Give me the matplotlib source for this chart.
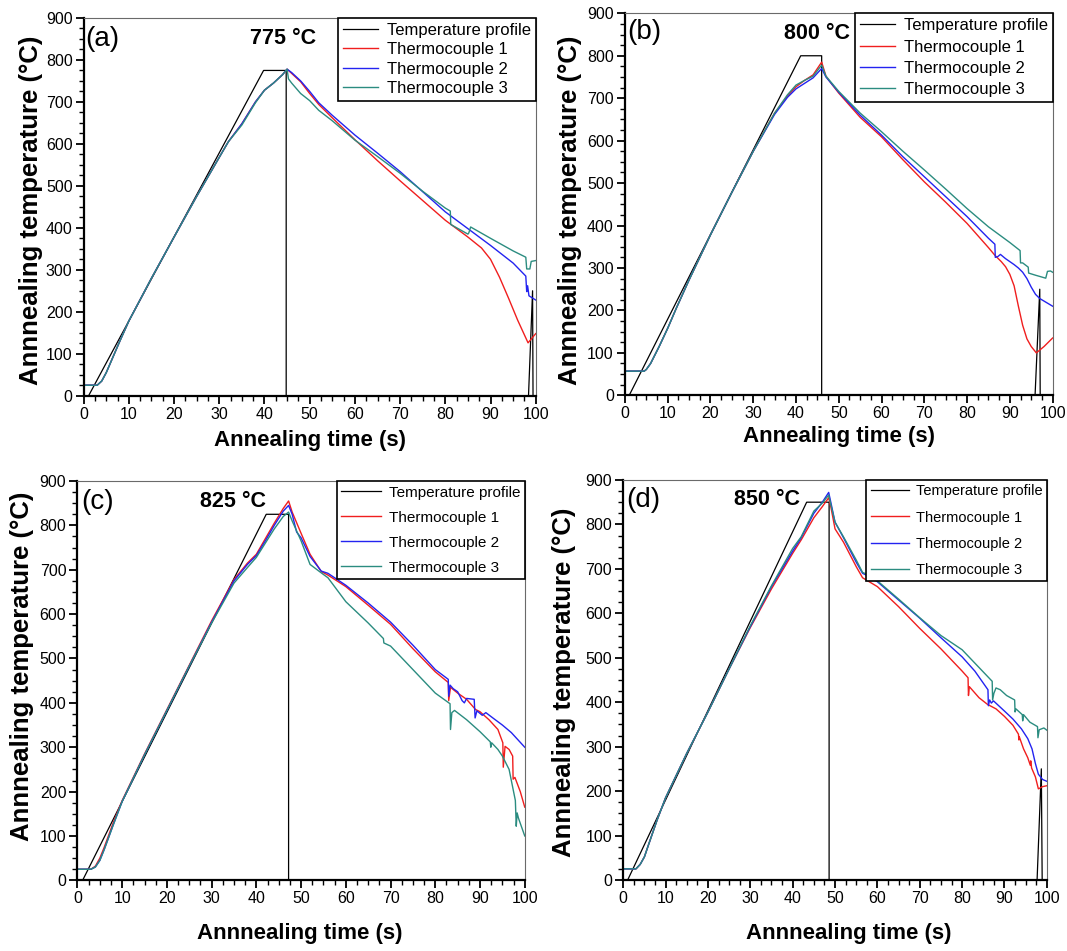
import matplotlib
matplotlib.use("Agg")
import matplotlib.pyplot as plt
from matplotlib.ticker import MultipleLocator

plt.rcParams['font.family'] = ['Liberation Sans', 'DejaVu Sans']

# ---- panel (a) 775 C ----
a_prof_t = [1.1, 39.8, 44.8, 44.8, 98.4, 99.3, 99.4]
a_prof_T = [0, 775, 775, 0, 0, 250, 0]
a_tc1_t = [0, 3, 4, 5, 6, 8, 10, 15, 20, 25, 30, 32, 35, 38, 40, 42, 44, 45, 46, 48, 50, 52, 55, 60, 65, 70, 75, 80, 85, 88, 90, 92, 94, 96, 98.3, 100]
a_tc1_T = [25, 25, 35, 55, 80, 130, 178, 280, 378, 475, 568, 605, 648, 700, 728, 745, 765, 778, 768, 748, 720, 694, 662, 610, 560, 512, 465, 418, 378, 352, 325, 282, 232, 180, 126, 148]
a_tc2_t = [0, 3, 4, 5, 6, 8, 10, 15, 20, 25, 30, 32, 35, 38, 40, 42, 44, 45, 46, 48, 50, 52, 55, 60, 65, 70, 75, 80, 85, 90, 95, 97.8, 98.0, 98.2, 98.5, 100]
a_tc2_T = [25, 25, 35, 55, 80, 130, 178, 280, 378, 475, 568, 605, 648, 700, 728, 745, 765, 778, 770, 750, 725, 698, 668, 621, 578, 534, 486, 438, 398, 358, 316, 285, 248, 262, 238, 228]
a_tc3_t = [0, 3, 4, 5, 6, 8, 10, 15, 20, 25, 30, 32, 35, 38, 40, 42, 44, 45, 45.3, 46, 48, 50, 52, 55, 60, 65, 70, 75, 80, 81.1, 81.2, 85.0, 85.2, 85.6, 90, 95, 97.8, 98.0, 98.7, 99.0, 100]
a_tc3_T = [25, 25, 35, 55, 80, 130, 178, 280, 378, 475, 568, 605, 645, 698, 728, 745, 765, 778, 755, 745, 720, 703, 680, 655, 609, 570, 530, 487, 447, 440, 408, 385, 388, 402, 375, 345, 330, 302, 302, 320, 322]

# ---- panel (b) 800 C ----
b_prof_t = [1.0, 41.1, 46.0, 46.0, 95.9, 97.0, 97.1]
b_prof_T = [0, 800, 800, 0, 0, 250, 0]
b_tc1_t = [0, 4.5, 5, 6, 8, 10, 12, 15, 20, 25, 30, 35, 38, 40, 42, 44, 46, 47, 48, 50, 55, 60, 65, 70, 75, 80, 85, 86.5, 88, 89, 90, 91, 92, 93, 94, 95, 96.2, 98, 100]
b_tc1_T = [57, 57, 61, 75, 115, 158, 205, 272, 378, 478, 575, 665, 705, 727, 742, 755, 785, 752, 738, 712, 655, 609, 555, 503, 455, 405, 348, 330, 315, 303, 285, 258, 210, 165, 133, 115, 100, 115, 135]
b_tc2_t = [0, 4.5, 5, 6, 8, 10, 12, 15, 20, 25, 30, 35, 38, 40, 42, 44, 46, 47, 48, 50, 55, 60, 65, 70, 75, 80, 85, 86.5, 86.6, 87.2, 87.8, 89, 91, 92, 93, 94, 95, 96, 97, 98, 100]
b_tc2_T = [57, 57, 61, 75, 115, 158, 205, 272, 378, 478, 575, 662, 702, 722, 735, 748, 770, 750, 738, 714, 660, 613, 562, 515, 468, 421, 370, 356, 325, 327, 332, 322, 308, 300, 290, 275, 255, 238, 228, 222, 210]
b_tc3_t = [0, 4.5, 5, 6, 8, 10, 12, 15, 20, 25, 30, 35, 38, 40, 42, 44, 46, 47, 48, 50, 55, 60, 65, 70, 75, 80, 85, 90, 92.4, 92.5, 93, 94.3, 94.4, 96, 98.4, 98.8, 99.5, 100]
b_tc3_T = [57, 57, 61, 75, 115, 158, 205, 272, 378, 478, 575, 665, 708, 731, 742, 752, 778, 752, 740, 716, 665, 621, 575, 531, 486, 440, 397, 360, 341, 312, 312, 302, 288, 283, 276, 292, 293, 290]

# ---- panel (c) 825 C ----
c_prof_t = [1.15, 42.2, 47.2, 47.2]
c_prof_T = [0, 825, 825, 0]
c_tc1_t = [0, 3, 4, 5, 6, 8, 10, 15, 20, 25, 30, 35, 38, 40, 42, 44, 46, 47.2, 48, 50, 52, 54.5, 56, 60, 65, 70, 75, 80, 82.9, 83.0, 83.4, 85, 87, 89, 90, 92, 94, 95.1, 95.2, 95.6, 96.5, 97.3, 97.4, 97.8, 99, 100]
c_tc1_T = [25, 25, 32, 50, 75, 130, 180, 285, 385, 485, 585, 678, 715, 735, 770, 805, 838, 855, 830, 782, 735, 696, 688, 662, 620, 577, 522, 470, 446, 405, 435, 422, 408, 385, 380, 362, 340, 310, 255, 302, 295, 280, 228, 232, 200, 165]
c_tc2_t = [0, 3, 4, 5, 6, 8, 10, 15, 20, 25, 30, 35, 38, 40, 42, 44, 46, 47.2, 48, 49, 50, 52, 54.5, 56, 60, 65, 70, 75, 80, 82.9, 83.0, 83.3, 84, 85, 86, 86.5, 87, 88.7, 88.9, 89.3, 90.5, 91.3, 93, 95, 97, 100]
c_tc2_T = [25, 25, 30, 45, 70, 125, 178, 283, 383, 483, 582, 675, 712, 732, 765, 800, 832, 845, 825, 785, 772, 730, 697, 692, 665, 625, 582, 530, 475, 453, 415, 440, 432, 425, 405, 400, 410, 408, 366, 382, 372, 378, 365, 350, 333, 300]
c_tc3_t = [0, 3, 4, 5, 6, 8, 10, 15, 20, 25, 30, 35, 38, 40, 42, 44, 46, 47.2, 48, 50, 52, 54.5, 56, 60, 65, 68.4, 68.5, 70, 75, 80, 83.3, 83.4, 83.7, 84.3, 87, 90, 92.3, 92.4, 92.6, 94, 95, 96.5, 97.9, 98.1, 98.3, 98.6, 100]
c_tc3_T = [25, 25, 30, 45, 70, 125, 178, 283, 383, 483, 580, 670, 705, 728, 760, 792, 820, 830, 810, 765, 712, 693, 682, 628, 580, 545, 535, 528, 475, 422, 398, 340, 378, 383, 362, 335, 312, 300, 310, 295, 280, 250, 180, 122, 152, 140, 100]

# ---- panel (d) 850 C ----
d_prof_t = [1.05, 43.3, 48.6, 48.6, 97.7, 98.7, 98.9]
d_prof_T = [0, 850, 850, 0, 0, 250, 0]
d_tc1_t = [0, 3, 4, 5, 6, 8, 10, 15, 20, 25, 30, 35, 40, 42, 45, 47, 48.5, 49, 50, 52, 55, 56.5, 60, 65, 70, 75, 80, 81.4, 81.5, 81.7, 84, 86, 88, 90, 92, 93.3, 93.4, 93.5, 94.5, 95.5, 96.1, 96.2, 96.4, 97.3, 98, 99, 100]
d_tc1_T = [25, 25, 35, 52, 80, 135, 185, 285, 378, 475, 568, 655, 735, 765, 815, 840, 860, 840, 790, 760, 705, 680, 660, 615, 566, 520, 470, 455, 415, 435, 410, 395, 385, 368, 348, 328, 315, 322, 295, 275, 258, 268, 252, 232, 205, 210, 212]
d_tc2_t = [0, 3, 4, 5, 6, 8, 10, 15, 20, 25, 30, 35, 40, 42, 45, 47, 48.5, 49, 50, 52, 55, 56.5, 58, 60, 65, 70, 75, 80, 83, 86.1, 86.2, 86.5, 86.9, 87.4, 90, 92, 94, 95.5, 96.5, 97.3, 98, 99, 100]
d_tc2_T = [25, 25, 35, 52, 80, 135, 185, 285, 378, 475, 570, 660, 740, 770, 825, 850, 872, 850, 805, 770, 715, 690, 683, 671, 630, 589, 545, 502, 470, 428, 392, 405, 398, 403, 380, 362, 340, 318, 295, 262, 238, 226, 222]
d_tc3_t = [0, 3, 4, 5, 6, 8, 10, 15, 20, 25, 30, 35, 40, 42, 45, 47, 48.5, 49, 50, 52, 55, 56.5, 58, 60, 65, 70, 75, 80, 84, 87.1, 87.2, 87.5, 88, 89, 90.5, 92.4, 92.5, 92.7, 94.2, 94.3, 94.5, 96, 97.8, 97.9, 98.2, 99.3, 100]
d_tc3_T = [25, 25, 35, 52, 80, 135, 185, 285, 378, 475, 572, 662, 746, 772, 830, 848, 866, 845, 805, 772, 720, 692, 686, 673, 632, 590, 550, 518, 478, 447, 405, 420, 432, 428, 415, 405, 378, 385, 372, 358, 372, 355, 345, 320, 338, 342, 337]

labels = ["Temperature profile", "Thermocouple 1", "Thermocouple 2", "Thermocouple 3"]
colors = ["black", "#f01e1e", "#2323f0", "#2b8c80"]

fig = plt.figure(figsize=(10.67, 9.51), dpi=100)


def panel(rect, series, letter, title, tpos, lpos, xlab, ylab, ylab_x, ylab_y, xlab_x, xlab_y,
          leg_fs, leg_sp, leg_hl):
    ax = fig.add_axes(rect)
    for (t, T), lab, c in zip(series, labels, colors):
        lw = 0.9 if c == "black" else 1.0
        ax.plot(t, T, color=c, lw=lw, label=lab)
    ax.set_xlim(0, 100)
    ax.set_ylim(0, 900)
    ax.xaxis.set_major_locator(MultipleLocator(10))
    ax.xaxis.set_minor_locator(MultipleLocator(2.5))
    ax.yaxis.set_major_locator(MultipleLocator(100))
    ax.yaxis.set_minor_locator(MultipleLocator(25))
    ax.tick_params(which='both', direction='out', top=False, right=False, labelsize=11.5, pad=2)
    ax.tick_params(which='major', length=6, width=1.3)
    ax.tick_params(which='minor', length=3.5, width=1.0)
    for s in ['left', 'bottom']:
        ax.spines[s].set_linewidth(1.6)
        ax.spines[s].set_color('black')
    for s in ['top', 'right']:
        ax.spines[s].set_linewidth(0.8)
        ax.spines[s].set_color('#6a6a6a')
    ax.set_xlabel(xlab, fontsize=16, fontweight='bold')
    ax.set_ylabel(ylab, fontsize=18.5, fontweight='bold')
    ax.yaxis.set_label_coords(ylab_x, ylab_y)
    ax.xaxis.set_label_coords(xlab_x, xlab_y)
    ax.text(lpos[0], lpos[1], letter, fontsize=20, ha='center', va='center')
    ax.text(tpos[0], tpos[1], title, fontsize=15.5, fontweight='bold', ha='center', va='center')
    leg = ax.legend(loc='upper right', bbox_to_anchor=(1.0, 1.0), fontsize=leg_fs, frameon=True,
                    fancybox=False, framealpha=1, edgecolor='black', borderaxespad=0,
                    handlelength=leg_hl, handletextpad=0.5, labelspacing=leg_sp, borderpad=0.3)
    leg.get_frame().set_linewidth(1.2)
    return ax


panel([0.0784, 0.5839, 0.4237, 0.3972],
      [(a_prof_t, a_prof_T), (a_tc1_t, a_tc1_T), (a_tc2_t, a_tc2_T), (a_tc3_t, a_tc3_T)],
      "(a)", "775 °C", (44.0, 851), (4.2, 849),
      "Annealing time (s)", "Annnealing temperature (°C)", -0.09, 0.49, 0.5, -0.09,
      12, 0.26, 2.1)

panel([0.5857, 0.5843, 0.4008, 0.4017],
      [(b_prof_t, b_prof_T), (b_tc1_t, b_tc1_T), (b_tc2_t, b_tc2_T), (b_tc3_t, b_tc3_T)],
      "(b)", "800 °C", (44.8, 853), (4.6, 857),
      "Annealing time (s)", "Annnealing temperature (°C)", -0.10, 0.484, 0.5, -0.081,
      12, 0.38, 2.1)

panel([0.0726, 0.0743, 0.4192, 0.4199],
      [(c_prof_t, c_prof_T), (c_tc1_t, c_tc1_T), (c_tc2_t, c_tc2_T), (c_tc3_t, c_tc3_T)],
      "(c)", "825 °C", (34.7, 853), (4.4, 853),
      "Annnealing time (s)", "Annnealing temperature (°C)", -0.097, 0.536, 0.498, -0.108,
      11, 0.72, 2.6)

panel([0.5841, 0.0747, 0.3970, 0.4206],
      [(d_prof_t, d_prof_T), (d_tc1_t, d_tc1_T), (d_tc2_t, d_tc2_T), (d_tc3_t, d_tc3_T)],
      "(d)", "850 °C", (34.0, 856), (4.8, 855),
      "Annnealing time (s)", "Annnealing temperature (°C)", -0.111, 0.495, 0.532, -0.108,
      10.5, 0.84, 2.6)

fig.savefig("out.png", dpi=100)
